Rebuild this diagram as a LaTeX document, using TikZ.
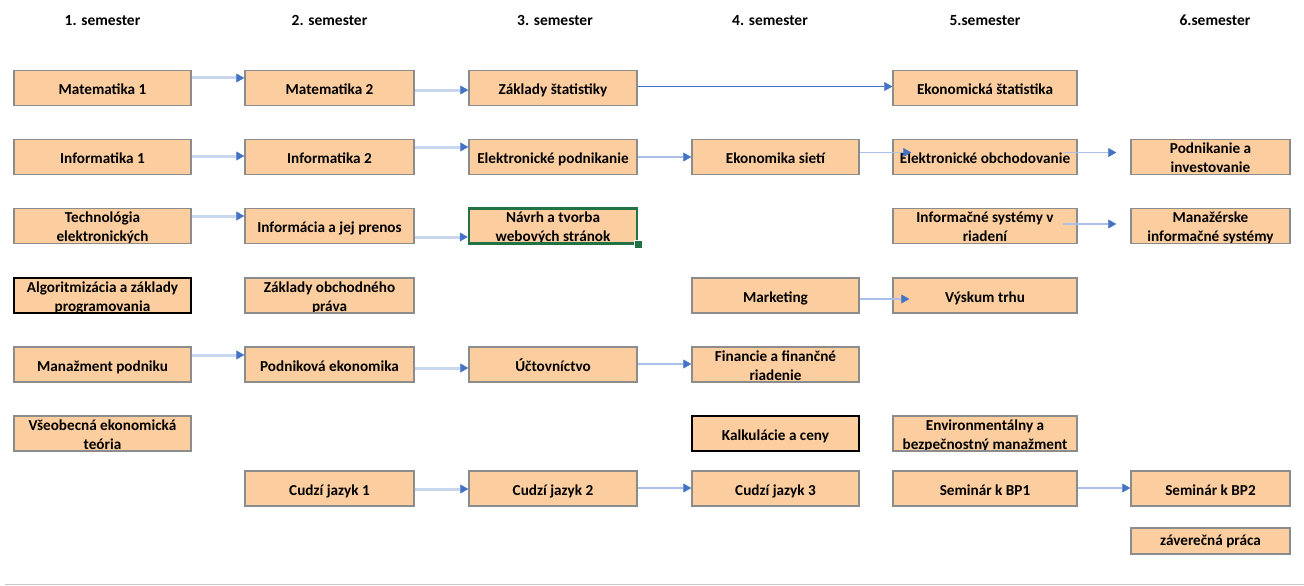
\documentclass[tikz,border=0pt]{standalone}
\usepackage{fontspec}
\setmainfont{Carlito}
\usetikzlibrary{arrows.meta}
\definecolor{peach}{RGB}{252,205,158}
\definecolor{bgray}{RGB}{140,140,140}
\definecolor{ablue}{RGB}{68,114,196}
\definecolor{lblue}{RGB}{200,214,240}
\definecolor{mblue}{RGB}{170,192,232}
\definecolor{selgreen}{RGB}{33,115,70}
\begin{document}
\begin{tikzpicture}[x=1pt,y=-1pt,
  txt/.style={font=\fontsize{15.2}{19}\selectfont\bfseries},
  box/.style={draw=bgray,line width=1.5pt,fill=peach,inner sep=0pt,minimum height=35pt,txt,text height=13pt,text depth=0pt},
  cA/.style={box,minimum width=177pt},
  cB/.style={box,minimum width=169pt},
  cC/.style={box,minimum width=168pt},
  cD/.style={box,minimum width=167pt},
  cE/.style={box,minimum width=184pt},
  cF/.style={box,minimum width=159pt},
  two/.style 2 args={path picture={
    \node[txt,inner sep=0pt,anchor=base] at ([yshift=3.3pt]path picture bounding box.center) {#1};
    \node[txt,inner sep=0pt,anchor=base] at ([yshift=-15.7pt]path picture bounding box.center) {#2};}},
  hdr/.style={font=\fontsize{15.5}{17}\selectfont\bfseries,inner sep=0pt,anchor=base},
  conn/.style={draw=lblue,line width=3pt,-{Triangle[length=8pt,width=9pt,line width=0.5pt,color=ablue]}},
  connthin/.style={draw=mblue,line width=1.6pt,-{Triangle[length=8pt,width=9pt,line width=0.5pt,color=ablue]}},
  conndark/.style={draw=ablue,line width=1.5pt,-{Triangle[length=8pt,width=9pt,line width=0.5pt,color=ablue]}}
]
\useasboundingbox (0,0) rectangle (1304,586);

% headers
\node[hdr] (h1) at (102.5,26) {1. semester};
\node[hdr] (h2) at (329.5,26) {2. semester};
\node[hdr] (h3) at (555,26) {3. semester};
\node[hdr] (h4) at (770,26) {4. semester};
\node[hdr] (h5) at (985,26) {5.semester};
\node[hdr] (h6) at (1215,26) {6.semester};

% column 1
\node[cA] (mat1) at (102.5,88) {Matematika 1};
\node[cA] (inf1) at (102.5,157) {Informatika 1};
\node[cA,two={Technológia}{elektronických}] (tech) at (102.5,226) {};
\node[cA,draw=black,line width=2pt,two={Algoritmizácia a základy}{programovania}] (alg) at (102.5,295.5) {};
\node[cA] (manaz) at (102.5,364.5) {Manažment podniku};
\node[cA,two={Všeobecná ekonomická}{teória}] (vset) at (102.5,433.5) {};

% column 2
\node[cB] (mat2) at (329.5,88) {Matematika 2};
\node[cB] (inf2) at (329.5,157) {Informatika 2};
\node[cB] (infpr) at (329.5,226) {Informácia a jej prenos};
\node[cB,two={Základy obchodného}{práva}] (zop) at (329.5,295.5) {};
\node[cB] (podek) at (329.5,364.5) {Podniková ekonomika};
\node[cB] (cj1) at (329.5,488.5) {Cudzí jazyk 1};

% column 3
\node[cC] (zakl) at (553,88) {Základy štatistiky};
\node[cC] (epod) at (553,157) {Elektronické podnikanie};
\node[cC,draw=selgreen,line width=2.5pt,two={Návrh a tvorba}{webových stránok}] (navrh) at (553,226) {};
\node[cC] (uct) at (553,364.5) {Účtovníctvo};
\node[cC] (cj2) at (553,488.5) {Cudzí jazyk 2};
\node[fill=selgreen,draw=white,line width=0.8pt,minimum size=8pt,inner sep=0pt] (handle) at (navrh.south east) {};

% column 4
\node[cD] (eksiet) at (775.5,157) {Ekonomika sietí};
\node[cD] (mark) at (775.5,295.5) {Marketing};
\node[cD,two={Financie a finančné}{riadenie}] (fin) at (775.5,364.5) {};
\node[cD,draw=black,line width=2pt] (kalk) at (775.5,433.5) {Kalkulácie a ceny};
\node[cD] (cj3) at (775.5,488.5) {Cudzí jazyk 3};

% column 5
\node[cE] (ekst) at (985,88) {Ekonomická štatistika};
\node[cE] (eobch) at (985,157) {Elektronické obchodovanie};
\node[cE,two={Informačné systémy v}{riadení}] (issys) at (985,226) {};
\node[cE] (vysk) at (985,295.5) {Výskum trhu};
\node[cE,two={Environmentálny a}{bezpečnostný manažment}] (env) at (985,433.5) {};
\node[cE] (sem1) at (985,488.5) {Seminár k BP1};

% column 6
\node[cF,two={Podnikanie a}{investovanie}] (podn) at (1210.5,157) {};
\node[cF,two={Manažérske}{informačné systémy}] (mis) at (1210.5,226) {};
\node[cF] (sem2) at (1210.5,488.5) {Seminár k BP2};
\node[cF,minimum height=26pt,text height=9pt] (zav) at (1210.5,541) {záverečná práca};

% connectors
\draw[conn] ([yshift=10pt]mat1.east) -- ([yshift=10pt]mat2.west);
\draw[conn] ([yshift=-2pt]mat2.east) -- ([yshift=-2pt]zakl.west);
\draw[conndark] ([yshift=1.5pt]zakl.east) -- ([yshift=1.5pt]ekst.west);
\draw[conn] ([yshift=1pt]inf1.east) -- ([yshift=1pt]inf2.west);
\draw[conn] ([yshift=10pt]inf2.east) -- ([yshift=10pt]epod.west);
\draw[connthin] ([yshift=0pt]epod.east) -- ([yshift=0pt]eksiet.west);
\draw[connthin] ([yshift=4.5pt]eksiet.east) -- ([xshift=19pt,yshift=4.5pt]eobch.west);
\draw[connthin] ([xshift=-15pt,yshift=4.5pt]eobch.east) -- ([xshift=-14pt,yshift=4.5pt]podn.west);
\draw[conn] ([yshift=10pt]tech.east) -- ([yshift=10pt]infpr.west);
\draw[conn] ([yshift=-11pt]infpr.east) -- ([yshift=-11pt]navrh.west);
\draw[connthin] ([xshift=-15pt,yshift=2pt]issys.east) -- ([xshift=-14pt,yshift=2pt]mis.west);
\draw[connthin] ([yshift=-3.5pt]mark.east) -- ([xshift=17pt,yshift=-3.5pt]vysk.west);
\draw[conn] ([yshift=9.5pt]manaz.east) -- ([yshift=9.5pt]podek.west);
\draw[conn] ([yshift=-3.5pt]podek.east) -- ([yshift=-3.5pt]uct.west);
\draw[connthin] ([yshift=0.5pt]uct.east) -- ([yshift=0.5pt]fin.west);
\draw[conn] ([yshift=-0.5pt]cj1.east) -- ([yshift=-0.5pt]cj2.west);
\draw[connthin] ([yshift=0.5pt]cj2.east) -- ([yshift=0.5pt]cj3.west);
\draw[connthin] ([yshift=0.5pt]sem1.east) -- ([yshift=0.5pt]sem2.west);

% bottom rule
\draw[black!22,line width=1.5pt] (5,584.5) -- (1304,584.5);
\end{tikzpicture}
\end{document}
